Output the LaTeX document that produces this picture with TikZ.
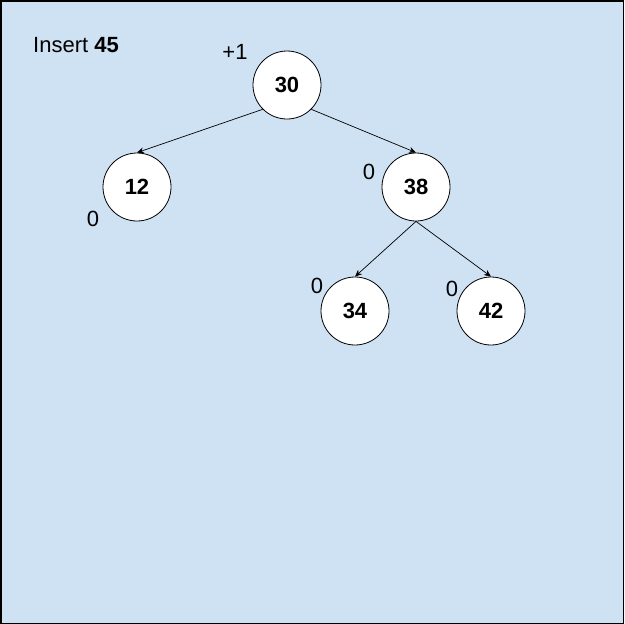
\documentclass[tikz,border=0pt]{standalone}
\usepackage{fontspec}
\setmainfont{Liberation Sans}
\usetikzlibrary{arrows.meta,positioning}
\definecolor{bgblue}{HTML}{CFE2F3}

\begin{document}
\begin{tikzpicture}[
  x=1pt, y=-1pt,
  on grid,
  auto,
  key/.style={
    circle,
    draw=black,
    fill=white,
    line width=0.8pt,
    minimum size=68pt,
    inner sep=0pt,
    font=\fontsize{22}{26}\selectfont\bfseries,
    text centered
  },
  bal/.style={
    inner sep=0pt,
    font=\fontsize{22}{26}\selectfont
  },
  link/.style={
    line width=0.7pt,
    draw=black,
    -{Stealth[length=7pt,width=6pt]}
  }
]

% Background panel
\useasboundingbox (0,0) rectangle (624,624);
\draw[fill=bgblue, line width=1.5pt] (0.75,0.75) rectangle (623.25,623.25);

% Caption
\node[bal, anchor=west] (title) at (33,45) {Insert \textbf{45}};

% Root
\node[key] (n30) at (287,85) {30};
\node[bal, above left=33pt and 52pt of n30] (b30) {+1};

% Left child
\node[key, below left=102pt and 150pt of n30] (n12) {12};
\draw[link] (n30.south west) -- (n12.north);
\node[bal, below left=32pt and 44pt of n12] (b12) {0};

% Right child
\node[key, below right=102pt and 129pt of n30] (n38) {38};
\draw[link] (n30.south east) -- (n38.north);
\node[bal, above left=15pt and 47pt of n38] (b38) {0};

% Children of 38
\node[key, below left=124pt and 61pt of n38] (n34) {34};
\draw[link] (n38.south) -- (n34.north);
\node[bal, above left=25pt and 38pt of n34] (b34) {0};

\node[key, below right=124pt and 75pt of n38] (n42) {42};
\draw[link] (n38.south) -- (n42.north);
\node[bal, above left=22pt and 39pt of n42] (b42) {0};

\end{tikzpicture}
\end{document}
